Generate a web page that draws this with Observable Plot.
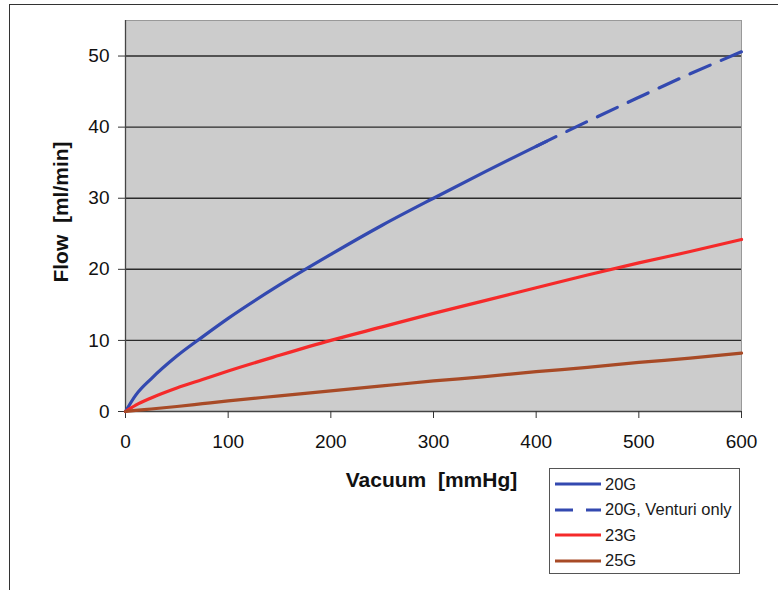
<!DOCTYPE html>
<html>
<head>
<meta charset="utf-8">
<script src="https://cdn.jsdelivr.net/npm/d3@7"></script>
<script src="https://cdn.jsdelivr.net/npm/@observablehq/plot@0.6"></script>
<style>
  html, body { margin: 0; padding: 0; background: #fff; }
  #wrap { position: relative; width: 778px; height: 590px; overflow: hidden; }
  #border { position: absolute; left: 9px; top: 4px; width: 800px; height: 620px; border: 1.5px solid #333; box-sizing: border-box; }
  #chart { position: absolute; left: 0; top: 0; }
  #legend { position: absolute; left: 549px; top: 468px; width: 191px; height: 106px; border: 1px solid #555; box-sizing: border-box; background: #fff; font-family: "Liberation Sans", Arial, sans-serif; font-size: 16.5px; color: #1a1a1a; }
  .item { position: absolute; left: 5px; height: 22px; display: flex; align-items: center; white-space: nowrap; }
  .item svg { margin-right: 4px; }
</style>
</head>
<body>
<div id="wrap">
  <div id="border"></div>
  <div id="chart"></div>
  <div id="legend"></div>
</div>
<script>
// Vacuum [mmHg]
const vacuum = [0, 10, 25, 50, 75, 100, 150, 200, 250, 300, 350, 400, 450, 500, 550, 600];
// Flow [ml/min]
const flow20G = [0, 2.3, 4.6, 7.8, 10.5, 13.1, 17.8, 22.1, 26.2, 30.0, 33.7, 37.3, 40.8, 44.2, 47.5, 50.6];
const flow23G = [0, 0.9, 1.9, 3.3, 4.5, 5.7, 7.9, 10.0, 11.9, 13.8, 15.6, 17.4, 19.2, 20.9, 22.5, 24.2];
const flow25G = [0, 0.15, 0.35, 0.7, 1.1, 1.5, 2.2, 2.9, 3.6, 4.3, 4.9, 5.6, 6.2, 6.9, 7.5, 8.2];
const solidEnd = 410;   // 20G measured part ends here; beyond: Venturi only
const venturiStart = 400;

const seriesNames = ["20G", "20G, Venturi only", "23G", "25G"];
const seriesColors = ["#3349b0", "#3349b0", "#f52a2a", "#a84a26"];
const seriesDash = [null, "22,12", null, null];
const xTicks = [0, 100, 200, 300, 400, 500, 600];
const yTicks = [0, 10, 20, 30, 40, 50];
const xTitle = "Vacuum\u00a0\u00a0[mmHg]";
const yTitle = "Flow\u00a0\u00a0[ml/min]";

const rows = [];
vacuum.forEach((v, i) => {
  if (v <= solidEnd) rows.push({series: "20G", x: v, y: flow20G[i]});
  if (v >= venturiStart) rows.push({series: "20G, Venturi only", x: v, y: flow20G[i]});
  rows.push({series: "23G", x: v, y: flow23G[i]});
  rows.push({series: "25G", x: v, y: flow25G[i]});
});
// end the solid 20G segment at solidEnd (linear between the two neighbouring read points)
const iEnd = vacuum.findIndex(v => v > solidEnd);
const yEnd = flow20G[iEnd - 1] + (flow20G[iEnd] - flow20G[iEnd - 1]) * (solidEnd - vacuum[iEnd - 1]) / (vacuum[iEnd] - vacuum[iEnd - 1]);
rows.push({series: "20G", x: solidEnd, y: yEnd});

const font = "'Liberation Sans', Arial, sans-serif";

const chart = Plot.plot({
  width: 778,
  height: 590,
  marginLeft: 125,
  marginRight: 37,
  marginTop: 20,
  marginBottom: 179,
  style: {fontFamily: font, fontSize: "19px", color: "#111", background: "transparent"},
  x: {domain: [0, 600], ticks: xTicks, label: null},
  y: {domain: [0, 55], ticks: yTicks, label: null},
  marks: [
    Plot.frame({fill: "#cccccc", stroke: "#999"}),
    Plot.ruleY(yTicks.filter(t => t > 0), {stroke: "#2a2a2a", strokeWidth: 1.4}),
    Plot.ruleX([0], {stroke: "#444", strokeWidth: 1.3}),
    Plot.ruleY([0], {stroke: "#444", strokeWidth: 1.3}),
    Plot.axisY({ticks: yTicks, tickSize: 7, tickPadding: 9, fontSize: 19, stroke: "#333", label: null}),
    Plot.axisX({ticks: xTicks, tickSize: 7, tickPadding: 16, fontSize: 19, stroke: "#333", label: null}),
    ...seriesNames.map((name, k) => Plot.line(rows.filter(r => r.series === name), {
      x: "x", y: "y", sort: "x", stroke: seriesColors[k], strokeWidth: 3.2,
      strokeDasharray: seriesDash[k] || undefined, curve: "monotone-x"
    })),
    Plot.text([xTitle], {frameAnchor: "bottom", lineAnchor: "middle", dx: -2, dy: 69, fontWeight: "bold", fontSize: 21, fill: "#111"}),
    Plot.text([yTitle], {frameAnchor: "left", textAnchor: "middle", lineAnchor: "middle", dx: -64, dy: -4, rotate: -90, fontWeight: "bold", fontSize: 21, fill: "#111"})
  ]
});
document.getElementById("chart").appendChild(chart);

// Legend
const legend = document.getElementById("legend");
seriesNames.forEach((name, k) => {
  const d = document.createElement("div");
  d.className = "item";
  d.style.top = (4 + k * 25.5) + "px";
  const dash = seriesDash[k] ? `stroke-dasharray="18,13"` : "";
  d.innerHTML = `<svg width="46" height="6"><line x1="0" y1="3" x2="46" y2="3" stroke="${seriesColors[k]}" stroke-width="3" ${dash}/></svg><span>${name}</span>`;
  legend.appendChild(d);
});
</script>
</body>
</html>
